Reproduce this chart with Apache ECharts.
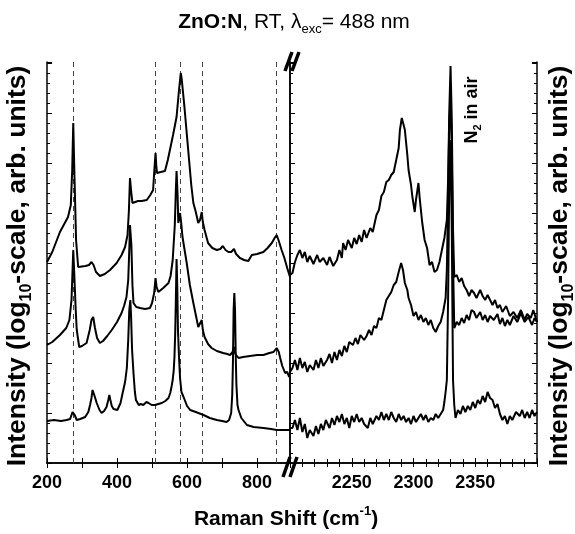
<!DOCTYPE html>
<html>
<head>
<meta charset="utf-8">
<script src="https://cdn.jsdelivr.net/npm/echarts@6/dist/echarts.min.js"></script>
<style>html,body{margin:0;padding:0;background:#fff}#c{width:575px;height:534px}</style>
</head>
<body>
<div id="c"></div>
<script>
// Intensity values are log10(intensity) in units of 0.01 decade (arbitrary offset)
const lowRange = [200, 894];
const highRange = [2200, 2400];
const lowTicks = [200, 400, 600, 800];
const highTicks = [2250, 2300, 2350];
const modeLines = [275, 510, 580, 643, 856];

const low1 = [[200,201],[215,211],[237,231],[260,246],[268,258],[272,293],[275,340],[278,293],[283,223],[289,196],[294,195],[310,197],[320,198],[327,201],[333,198],[340,191],[351,187],[365,189],[380,193],[399,200],[413,208],[423,216],[430,228],[434,253],[437,285],[440,273],[444,260],[447,258],[460,262],[470,262],[485,263],[495,268],[503,273],[507,295],[510,310],[512,298],[514,290],[525,291],[537,292],[545,303],[551,313],[560,328],[570,346],[577,373],[582,390],[585,383],[592,358],[599,330],[607,298],[612,278],[618,260],[625,251],[632,240],[637,243],[642,251],[645,241],[650,233],[660,220],[672,215],[685,213],[695,214],[702,217],[710,213],[718,211],[726,211],[734,214],[740,209],[751,205],[763,203],[775,202],[785,208],[800,209],[818,211],[830,215],[842,220],[850,225],[856,228],[862,222],[870,213],[878,205],[886,195],[894,186]];

const low2 = [[200,118],[215,121],[237,128],[255,135],[264,143],[270,163],[273,193],[275,213],[278,188],[282,153],[285,133],[292,116],[300,117],[313,120],[322,133],[327,143],[332,146],[337,135],[343,125],[351,120],[360,122],[372,127],[385,133],[400,141],[413,150],[420,157],[427,166],[432,183],[435,213],[437,238],[439,240],[441,218],[444,178],[447,160],[455,156],[466,155],[480,154],[494,155],[500,160],[506,170],[510,185],[513,176],[518,171],[532,175],[547,180],[553,187],[559,203],[565,238],[568,273],[570,292],[573,268],[575,240],[578,245],[580,250],[583,241],[587,226],[593,213],[599,200],[608,178],[618,160],[625,148],[632,136],[637,137],[642,143],[645,133],[650,126],[660,119],[670,115],[685,112],[703,110],[715,109],[723,108],[730,111],[734,116],[738,109],[747,105],[760,106],[780,107],[800,108],[818,108],[835,110],[847,111],[856,115],[862,111],[866,105],[872,97],[880,90],[886,91],[892,86]];

const low3 = [[200,42],[220,43],[240,42],[256,43],[266,44],[270,46],[273,51],[276,53],[279,48],[285,43],[295,44],[309,46],[318,51],[323,58],[327,65],[330,73],[332,75],[335,68],[342,60],[350,53],[356,50],[363,52],[370,56],[375,63],[378,68],[381,63],[385,57],[390,54],[401,53],[410,60],[416,70],[423,81],[428,95],[432,123],[435,153],[438,163],[440,148],[443,113],[447,90],[451,71],[454,63],[462,58],[468,59],[475,58],[484,61],[490,60],[499,58],[509,58],[518,59],[528,60],[538,62],[547,65],[552,70],[556,77],[559,83],[562,93],[564,106],[566,128],[568,163],[570,204],[572,178],[574,133],[577,106],[580,85],[584,71],[590,66],[600,57],[609,53],[625,51],[647,48],[665,45],[685,43],[700,42],[713,41],[720,43],[726,50],[729,68],[731,100],[733,153],[735,170],[737,153],[739,108],[741,78],[744,58],[747,53],[755,45],[771,38],[790,36],[818,35],[840,34],[856,33],[875,33],[894,33]];

const high1 = [[2200,188],[2202,190],[2204,201],[2206,208],[2208,213],[2210,205],[2212,211],[2214,201],[2216,207],[2219,199],[2222,208],[2224,201],[2227,205],[2230,198],[2232,206],[2235,197],[2238,203],[2240,213],[2242,205],[2243,220],[2245,213],[2247,223],[2250,215],[2252,225],[2254,219],[2256,228],[2258,221],[2260,233],[2262,225],[2265,235],[2267,231],[2270,248],[2272,253],[2274,267],[2276,271],[2278,281],[2280,283],[2282,288],[2284,291],[2286,303],[2288,315],[2289,333],[2290.5,345],[2292,338],[2293,333],[2295,308],[2296,293],[2298,278],[2299,267],[2301,251],[2302,263],[2304,280],[2305,265],[2307,241],[2309,223],[2311,215],[2313,198],[2315,201],[2317,191],[2319,193],[2321,201],[2323,213],[2325,225],[2327,243],[2328,283],[2329,353],[2330,397],[2331,343],[2332,233],[2333,186],[2335,188],[2337,181],[2339,185],[2341,177],[2343,173],[2345,167],[2347,173],[2349,170],[2351,165],[2354,173],[2356,167],[2358,163],[2360,168],[2362,163],[2364,158],[2366,163],[2368,155],[2370,158],[2372,151],[2375,157],[2378,147],[2381,151],[2384,145],[2387,153],[2390,143],[2392,149],[2395,145],[2397,153],[2400,141]];

const high2 = [[2200,91],[2202,95],[2204,103],[2206,93],[2208,105],[2210,95],[2212,101],[2214,91],[2216,98],[2219,93],[2221,103],[2223,95],[2225,105],[2227,97],[2230,103],[2232,109],[2234,100],[2236,111],[2238,103],[2240,113],[2242,107],[2244,117],[2246,111],[2248,121],[2251,118],[2253,125],[2255,119],[2257,128],[2260,123],[2262,127],[2264,133],[2266,128],[2268,137],[2270,135],[2272,145],[2274,143],[2276,153],[2278,163],[2280,167],[2282,171],[2284,178],[2286,181],[2288,191],[2290,200],[2291.5,193],[2293,180],[2295,173],[2296,165],[2298,158],[2300,147],[2302,151],[2304,143],[2306,148],[2308,141],[2310,145],[2312,138],[2314,143],[2316,135],[2318,131],[2320,137],[2322,141],[2324,151],[2326,165],[2327,193],[2328,263],[2329,343],[2330,363],[2331,313],[2332,203],[2333,135],[2335,141],[2337,138],[2339,145],[2341,140],[2343,148],[2345,143],[2347,153],[2349,151],[2351,145],[2354,151],[2356,143],[2358,148],[2360,141],[2362,147],[2365,143],[2368,149],[2370,139],[2372,145],[2374,137],[2376,143],[2378,138],[2381,147],[2384,141],[2387,150],[2390,141],[2393,146],[2396,138],[2398,145],[2400,141]];

const high3 = [[2200,35],[2202,35],[2204,43],[2206,33],[2208,45],[2210,31],[2212,39],[2214,25],[2216,33],[2219,27],[2221,37],[2223,29],[2225,39],[2227,33],[2229,43],[2232,35],[2234,45],[2236,38],[2238,47],[2240,41],[2242,49],[2244,39],[2246,45],[2248,35],[2250,47],[2252,41],[2254,49],[2256,41],[2258,45],[2260,39],[2263,35],[2265,45],[2267,39],[2270,47],[2272,43],[2274,51],[2276,43],[2278,49],[2280,43],[2282,51],[2284,45],[2286,41],[2288,49],[2290,43],[2292,47],[2294,41],[2296,45],[2298,39],[2300,47],[2302,41],[2304,45],[2306,49],[2308,43],[2310,48],[2312,41],[2314,45],[2316,43],[2318,49],[2320,45],[2322,49],[2324,53],[2325,61],[2326,71],[2327,83],[2328,163],[2329,283],[2330,323],[2331,233],[2332,83],[2333,58],[2334,45],[2336,53],[2338,49],[2340,57],[2342,51],[2344,57],[2346,53],[2348,61],[2350,55],[2352,63],[2354,59],[2356,67],[2358,61],[2360,71],[2362,65],[2364,63],[2366,55],[2368,59],[2370,49],[2372,43],[2374,47],[2376,39],[2378,47],[2380,43],[2383,51],[2386,47],[2388,53],[2390,45],[2392,51],[2394,45],[2396,53],[2398,47],[2400,51]];

const yRange = [0, 401];

const FONT = '"Liberation Sans", Arial, Helvetica, sans-serif';
const chart = echarts.init(document.getElementById('c'));

const frameLine = {show: true, lineStyle: {color: '#000', width: 1.5}};
function yAx(gi, pos, ticks) {
  return {
    type: 'value', gridIndex: gi, position: pos, min: yRange[0], max: yRange[1],
    interval: 50, axisLine: frameLine,
    axisTick: {show: ticks, inside: true, length: 5, lineStyle: {color: '#000', width: 1}},
    minorTick: {show: ticks, splitNumber: 5, length: 3, lineStyle: {color: '#000', width: 1}},
    axisLabel: {show: false}, splitLine: {show: false}
  };
}
const labelStyle = {show: true, color: '#000', fontSize: 18, fontWeight: 'bold', fontFamily: FONT, margin: 11};

const option = {
  animation: false,
  backgroundColor: '#fff',
  grid: [
    {left: 47, top: 62, width: 243, height: 401},
    {left: 290, top: 62, width: 247, height: 401}
  ],
  xAxis: [
    {type: 'value', gridIndex: 0, position: 'bottom', min: lowRange[0], max: lowRange[1], interval: 200,
      axisLine: frameLine,
      axisTick: {inside: true, length: 5, lineStyle: {color: '#000'}},
      minorTick: {show: true, splitNumber: 2, length: 5, lineStyle: {color: '#000'}},
      axisLabel: Object.assign({}, labelStyle, {showMaxLabel: false, formatter: v => lowTicks.includes(v) ? String(v) : ''}),
      splitLine: {show: false}},
    {type: 'value', gridIndex: 0, position: 'top', min: lowRange[0], max: lowRange[1], interval: 100,
      axisLine: frameLine,
      axisTick: {inside: true, length: 5, lineStyle: {color: '#000'}},
      axisLabel: {show: false}, splitLine: {show: false}},
    {type: 'value', gridIndex: 1, position: 'bottom', min: highRange[0], max: highRange[1], interval: 50,
      axisLine: frameLine,
      axisTick: {inside: true, length: 5, lineStyle: {color: '#000'}},
      minorTick: {show: true, splitNumber: 5, length: 4, lineStyle: {color: '#000'}},
      axisLabel: Object.assign({}, labelStyle, {formatter: v => highTicks.includes(v) ? String(v) : ''}),
      splitLine: {show: false}},
    {type: 'value', gridIndex: 1, position: 'top', min: highRange[0], max: highRange[1], interval: 10,
      axisLine: frameLine,
      axisTick: {inside: true, length: 4, lineStyle: {color: '#000'}},
      axisLabel: {show: false}, splitLine: {show: false}}
  ],
  yAxis: [
    yAx(0, 'left', true),
    yAx(0, 'right', false),
    yAx(1, 'left', true),
    yAx(1, 'right', true)
  ],
  series: [],
  graphic: []
};

const lineSty = {color: '#000', width: 2};
[low1, low2, low3].forEach((d, i) => {
  const s = {type: 'line', xAxisIndex: 0, yAxisIndex: 0, data: d, showSymbol: false, symbol: 'none',
    lineStyle: lineSty, z: 3};
  if (i === 0) {
    s.markLine = {silent: true, symbol: 'none', label: {show: false},
      lineStyle: {color: '#444', width: 1, type: [5, 4]},
      data: modeLines.map(v => ({xAxis: v})), z: 1};
  }
  option.series.push(s);
});
[high1, high2, high3].forEach(d => {
  option.series.push({type: 'line', xAxisIndex: 2, yAxisIndex: 2, data: d, showSymbol: false, symbol: 'none',
    lineStyle: lineSty, z: 3});
});

const subRich = {
  b: {fontSize: 21, fontWeight: 'bold', fontFamily: FONT, lineHeight: 28, fill: '#000'},
  n: {fontSize: 21, fontFamily: FONT, lineHeight: 28, fill: '#000'},
  s: {fontSize: 13, fontFamily: FONT, lineHeight: 13, verticalAlign: 'bottom', fill: '#000'}
};
const yRich = {
  n: {fontSize: 26.5, fontWeight: 'bold', fontFamily: FONT, lineHeight: 34, fill: '#000'},
  s: {fontSize: 16, fontWeight: 'bold', fontFamily: FONT, lineHeight: 16, verticalAlign: 'bottom', fill: '#000'}
};
const yText = '{n|Intensity (log}{s|10}{n|-scale, arb. units)}';

option.graphic = [
  {type: 'text', x: 294, y: 22, z: 10,
    style: {text: '{b|ZnO:N}{n|, RT, λ}{s|exc}{n|= 488 nm}', rich: subRich, align: 'center', verticalAlign: 'middle'}},
  {type: 'text', x: 286, y: 519, z: 10,
    style: {text: '{n|Raman Shift (cm}{p|-1}{n|)}', align: 'center', verticalAlign: 'middle',
      rich: {n: {fontSize: 21, fontWeight: 'bold', fontFamily: FONT, lineHeight: 28, fill: '#000'},
             p: {fontSize: 13, fontWeight: 'bold', fontFamily: FONT, lineHeight: 13, verticalAlign: 'top', fill: '#000'}}}},
  {type: 'text', x: 18, y: 266, rotation: Math.PI / 2, z: 10,
    style: {text: yText, rich: yRich, align: 'center', verticalAlign: 'middle'}},
  {type: 'text', x: 560, y: 266, rotation: Math.PI / 2, z: 10,
    style: {text: yText, rich: yRich, align: 'center', verticalAlign: 'middle'}},
  {type: 'text', x: 472, y: 110, rotation: Math.PI / 2, z: 10,
    style: {text: '{n|N}{s|2}{n| in air}', align: 'center', verticalAlign: 'middle',
      rich: {n: {fontSize: 18, fontWeight: 'bold', fontFamily: FONT, lineHeight: 22, fill: '#000'},
             s: {fontSize: 11, fontWeight: 'bold', fontFamily: FONT, lineHeight: 11, verticalAlign: 'bottom', fill: '#000'}}}},
  // axis-break marks
  {type: 'line', z: 20, shape: {x1: 285, y1: 71, x2: 292, y2: 52}, style: {stroke: '#000', lineWidth: 3.5}},
  {type: 'line', z: 20, shape: {x1: 292, y1: 71, x2: 299, y2: 52}, style: {stroke: '#000', lineWidth: 3.5}},
  {type: 'line', z: 20, shape: {x1: 283, y1: 477, x2: 290, y2: 457}, style: {stroke: '#000', lineWidth: 3.5}},
  {type: 'line', z: 20, shape: {x1: 290, y1: 477, x2: 297, y2: 457}, style: {stroke: '#000', lineWidth: 3.5}}
];

chart.setOption(option);
</script>
</body>
</html>
